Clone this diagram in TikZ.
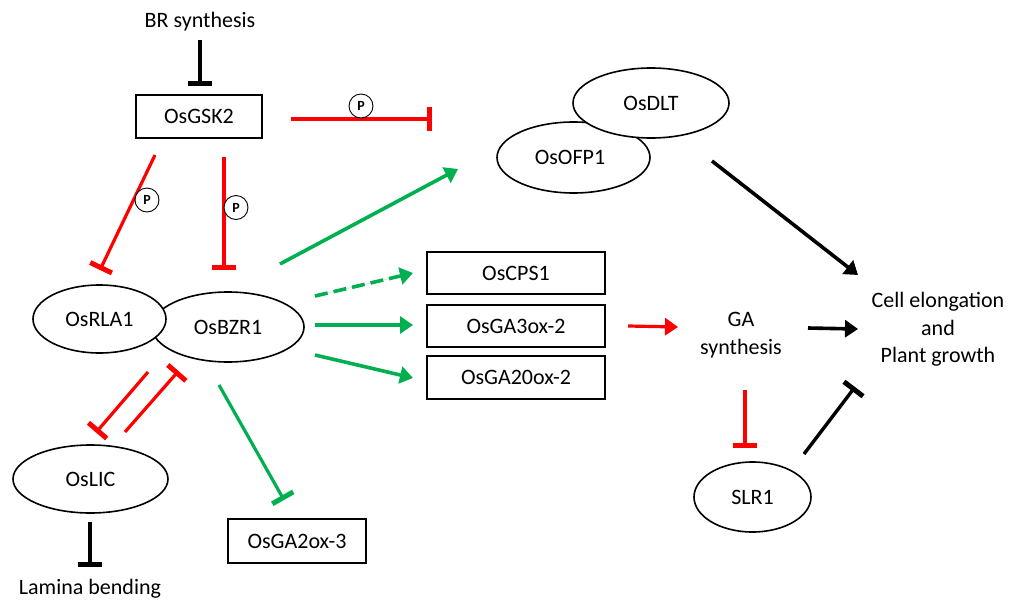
\documentclass[tikz,border=0pt]{standalone}
\usepackage{fontspec}
\setmainfont{Carlito}
\usetikzlibrary{arrows.meta,shapes.geometric}
\definecolor{rred}{RGB}{255,0,0}
\definecolor{ggreen}{RGB}{0,176,80}
\tikzset{
  txt/.style={font=\fontsize{22}{27.5}\selectfont, inner sep=0pt, align=center},
  ell/.style={txt, ellipse, draw=black, line width=1.6pt, fill=white, inner sep=0pt},
  gbox/.style={txt, rectangle, draw=black, line width=2.4pt, fill=white, inner sep=0pt},
  pcirc/.style={circle, draw=black, line width=0.9pt, fill=white, minimum size=24pt, inner sep=0pt, font=\bfseries\fontsize{14}{14}\selectfont},
  act/.style={line width=3.6pt, -{Triangle[length=13pt,width=17pt]}},
  inh/.style={line width=3.2pt, -{Bar[width=24pt,line width=5pt]}},
  redinh/.style={inh, draw=rred},
  blkinh/.style={inh, draw=black, line width=4pt},
  grninh/.style={inh, draw=ggreen},
  redact/.style={act, draw=rred, fill=rred, line width=3.2pt},
  grnact/.style={act, draw=ggreen, fill=ggreen},
  blkact/.style={act, draw=black, fill=black},
}
\begin{document}
\begin{tikzpicture}[x=1pt,y=-1pt]
\fill[white] (0,0) rectangle (1013,600);
\useasboundingbox (0,0) rectangle (1013,600);

% nodes
\node[txt] (br) at (200,22) {BR synthesis};
\node[gbox, minimum width=126pt, minimum height=43pt] (gsk) at (199,116.5) {OsGSK2};
\node[ell, minimum width=152pt, minimum height=70pt] (bzr) at (228,327) {OsBZR1};
\node[ell, minimum width=133pt, minimum height=68pt] (rla) at (99.5,319) {OsRLA1};
\node[ell, minimum width=155pt, minimum height=68pt] (lic) at (90.5,479) {OsLIC};
\node[txt] (lam) at (90,588.5) {Lamina bending};
\node[gbox, minimum width=138pt, minimum height=44pt] (ga2) at (297,541) {OsGA2ox-3};
\node[gbox, minimum width=178pt, minimum height=42pt] (cps) at (516,273) {OsCPS1};
\node[gbox, minimum width=178pt, minimum height=42pt] (ga3) at (516,326) {OsGA3ox-2};
\node[gbox, minimum width=178pt, minimum height=43pt] (ga20) at (516,377.5) {OsGA20ox-2};
\node[ell, minimum width=153pt, minimum height=71pt] (ofp) at (573.5,157.5) {\hspace*{-7pt}OsOFP1};
\node[ell, minimum width=156pt, minimum height=70pt] (dlt) at (651,103) {OsDLT};
\node[txt] (gas) at (741,335) {GA\\synthesis};
\node[ell, minimum width=117pt, minimum height=70pt] (slr) at (752.5,497) {SLR1};
\node[txt] (cell) at (938,329.5) {Cell elongation\\and\\Plant growth};

% connector end points
\coordinate (brS) at (200,40);   \coordinate (brE) at (200,86);
\coordinate (gskH) at (291,119); \coordinate (tgtH) at (432,119);
\coordinate (gskD) at (155,155); \coordinate (rlaT) at (100,270);
\coordinate (gskV) at (224,157); \coordinate (bzrT) at (224,270);
\coordinate (bzrA) at (280,264); \coordinate (ofpA) at (458,169);
\coordinate (bzrB) at (315,296); \coordinate (cpsA) at (413,273);
\coordinate (bzrC) at (315,325); \coordinate (ga3A) at (413,325);
\coordinate (bzrD) at (315,355); \coordinate (ga20A) at (413,378);
\coordinate (bzrE) at (148,372); \coordinate (licT) at (96,432.5);
\coordinate (licS) at (125,432); \coordinate (bzrF) at (178.5,371);
\coordinate (bzrG) at (219,385); \coordinate (ga2T) at (284,500);
\coordinate (licB) at (90,522);  \coordinate (lamT) at (90,567);
\coordinate (dltS) at (712,161); \coordinate (cellA) at (858,275);
\coordinate (ga3S) at (628,326); \coordinate (gasA) at (678,327);
\coordinate (gasS) at (808,328); \coordinate (cellB) at (858,329);
\coordinate (gasD) at (745,390); \coordinate (slrT) at (745,447.5);
\coordinate (slrS) at (804,454); \coordinate (cellC) at (855,387);

% connectors
\draw[blkinh] (brS) -- (brE);
\draw[redinh] (gskH) -- (tgtH);
\draw[redinh] (gskD) -- (rlaT);
\draw[redinh] (gskV) -- (bzrT);
\draw[grnact] (bzrA) -- (ofpA);
\draw[grnact, dash pattern=on 13pt off 6pt] (bzrB) -- (cpsA);
\draw[grnact] (bzrC) -- (ga3A);
\draw[grnact] (bzrD) -- (ga20A);
\draw[redinh] (bzrE) -- (licT);
\draw[redinh] (licS) -- (bzrF);
\draw[grninh] (bzrG) -- (ga2T);
\draw[blkinh] (licB) -- (lamT);
\draw[blkact] (dltS) -- (cellA);
\draw[redact] (ga3S) -- (gasA);
\draw[blkact] (gasS) -- (cellB);
\draw[redinh] (gasD) -- (slrT);
\draw[blkinh, line width=3.4pt] (slrS) -- (cellC);

% phosphorylation marks
\node[pcirc] (p1) at (361,106) {P};
\node[pcirc] (p2) at (147,200) {P};
\node[pcirc] (p3) at (236,207.5) {P};
\end{tikzpicture}
\end{document}
